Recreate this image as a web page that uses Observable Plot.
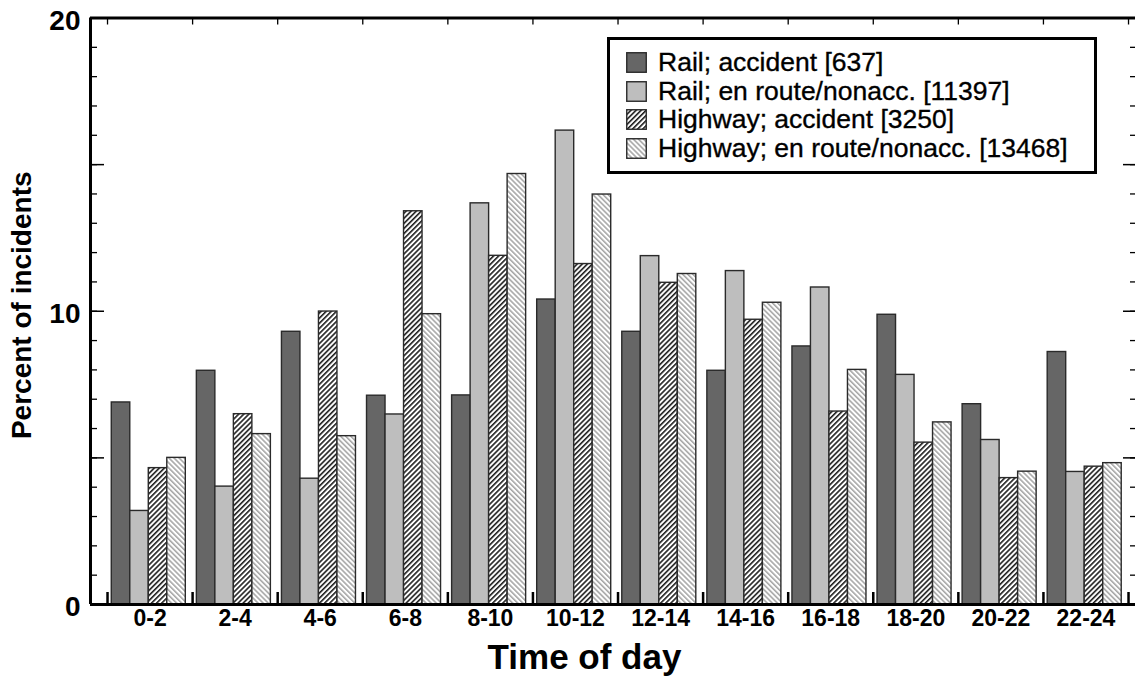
<!DOCTYPE html>
<html>
<head>
<meta charset="utf-8">
<script src="https://cdn.jsdelivr.net/npm/d3@7"></script>
<script src="https://cdn.jsdelivr.net/npm/@observablehq/plot@0.6"></script>
<style>
  body { margin: 0; background: #fff; }
  #wrap { position: relative; width: 1135px; height: 689px; font-family: "Liberation Sans", Arial, Helvetica, sans-serif; }
  #legend { position: absolute; left: 607px; top: 37px; width: 468px; height: 123px; padding: 8px 0 0 16px; border: 3px solid #000; background: #fff; }
  .row { display: flex; align-items: center; height: 28.7px; font-size: 26.5px; color: #000; white-space: nowrap; -webkit-text-stroke: 0.35px #000; }
  .row svg { margin-right: 11px; flex: none; }
</style>
</head>
<body>
<svg width="0" height="0" style="position:absolute">
  <defs>
    <pattern id="hatchA" patternUnits="userSpaceOnUse" width="3.6" height="3.6" patternTransform="rotate(45)">
      <rect width="3.6" height="3.6" fill="#fff"></rect>
      <line x1="0.8" y1="0" x2="0.8" y2="3.6" stroke="#1e1e1e" stroke-width="1.6"></line>
    </pattern>
    <pattern id="hatchB" patternUnits="userSpaceOnUse" width="3.6" height="3.6" patternTransform="rotate(-45)">
      <rect width="3.6" height="3.6" fill="#fff"></rect>
      <line x1="0.8" y1="0" x2="0.8" y2="3.6" stroke="#9a9a9a" stroke-width="1.4"></line>
    </pattern>
  </defs>
</svg>
<div id="wrap"></div>
<script>
// ---- data ----
const groups = ["0-2","2-4","4-6","6-8","8-10","10-12","12-14","14-16","16-18","18-20","20-22","22-24"];
const railAccident    = [6.89, 7.97, 9.30, 7.12, 7.13, 10.40, 9.30, 7.97, 8.80, 9.88, 6.83, 8.61];
const railEnroute     = [3.19, 4.02, 4.29, 6.48, 13.68, 16.16, 11.88, 11.37, 10.81, 7.83, 5.61, 4.52];
const highwayAccident = [4.65, 6.49, 9.99, 13.41, 11.89, 11.61, 10.97, 9.71, 6.58, 5.52, 4.31, 4.70];
const highwayEnroute  = [5.00, 5.81, 5.74, 9.90, 14.68, 13.98, 11.27, 10.29, 8.00, 6.21, 4.53, 4.82];
const seriesNames = ["Rail; accident [637]", "Rail; en route/nonacc. [11397]", "Highway; accident [3250]", "Highway; en route/nonacc. [13468]"];
const yTickLabels = [0, 10, 20];
const yMinorTicks = d3.range(1, 20);
const yMajorTicks = [5, 10, 15];

// ---- styles / layout ----
const series = [railAccident, railEnroute, highwayAccident, highwayEnroute];
const fills = ["#666666", "#bebebe", "url(#hatchA)", "url(#hatchB)"];
const xMin = -0.2, xMax = 12.082;
const barOffset = 0.05, barWidth = 0.2175;
const W = 1135, H = 689, mL = 90, mR = 0, mT = 17.5, mB = 85;
const frameW = W - mL - mR, frameH = H - mT - mB;
const boundaries = d3.range(0, groups.length + 1);
const font = '"Liberation Sans", Arial, Helvetica, sans-serif';

const chart = Plot.plot({
  width: W, height: H,
  marginLeft: mL, marginRight: mR, marginTop: mT, marginBottom: mB,
  x: { domain: [xMin, xMax], axis: null },
  y: { domain: [0, 20], axis: null },
  style: { fontFamily: font, color: "#000", background: "#fff", overflow: "visible" },
  marks: [
    ...series.map((vals, s) => Plot.rectY(vals, {
      x1: (d, i) => i + barOffset + s * barWidth,
      x2: (d, i) => i + barOffset + (s + 1) * barWidth,
      y1: 0, y2: d => d,
      fill: fills[s], stroke: "#2a2a2a", strokeWidth: 1.4
    })),
    // left ticks (inward)
    Plot.tickY(yMinorTicks, { y: d => d, insetRight: frameW - 7, stroke: "#000", strokeWidth: 1.3 }),
    Plot.tickY(yMajorTicks, { y: d => d, insetRight: frameW - 14, stroke: "#000", strokeWidth: 1.5 }),
    // right ticks (inward)
    Plot.tickY(yMinorTicks, { y: d => d, insetLeft: frameW - 5, stroke: "#000", strokeWidth: 1.3 }),
    Plot.tickY(yMajorTicks, { y: d => d, insetLeft: frameW - 12, stroke: "#000", strokeWidth: 1.5 }),
    // top ticks
    Plot.tickX(boundaries, { x: d => d, insetBottom: frameH - 7, stroke: "#000", strokeWidth: 1.3 }),
    // bottom ticks
    Plot.tickX(boundaries, { x: d => d, insetTop: frameH - 12, stroke: "#000", strokeWidth: 2.5 }),
    // spines
    Plot.ruleY([0], { stroke: "#000", strokeWidth: 3 }),
    Plot.ruleY([20], { stroke: "#000", strokeWidth: 3 }),
    Plot.ruleX([xMin], { stroke: "#000", strokeWidth: 3 }),
    // tick labels
    Plot.text(groups, { x: (d, i) => i + 0.5, frameAnchor: "bottom", dy: 21, text: d => d, fontSize: 23, fontWeight: "bold", fill: "#000" }),
    Plot.text(yTickLabels, { y: d => d, frameAnchor: "left", dx: -10, dy: 3, text: d => String(d), textAnchor: "end", fontSize: 28, fontWeight: "bold", fill: "#000" }),
    // axis titles
    Plot.text(["Percent of incidents"], { frameAnchor: "left", dx: -68, dy: -6, rotate: -90, textAnchor: "middle", text: d => d, fontSize: 28, fontWeight: "bold", fill: "#000" }),
    Plot.text(["Time of day"], { frameAnchor: "bottom", dx: -28.5, dy: 64, textAnchor: "middle", text: d => d, fontSize: 35, fontWeight: "bold", fill: "#000" })
  ]
});

const wrap = document.getElementById("wrap");
wrap.appendChild(chart);

// legend (inside the plot area, top right)
const legend = document.createElement("div");
legend.id = "legend";
seriesNames.forEach((name, s) => {
  const row = document.createElement("div");
  row.className = "row";
  row.innerHTML = `<svg width="21" height="21"><rect x="0.75" y="0.75" width="19.5" height="19.5" fill="${fills[s]}" stroke="#2a2a2a" stroke-width="1.4"></rect></svg><span>${name}</span>`;
  legend.appendChild(row);
});
wrap.appendChild(legend);
</script>
</body>
</html>
